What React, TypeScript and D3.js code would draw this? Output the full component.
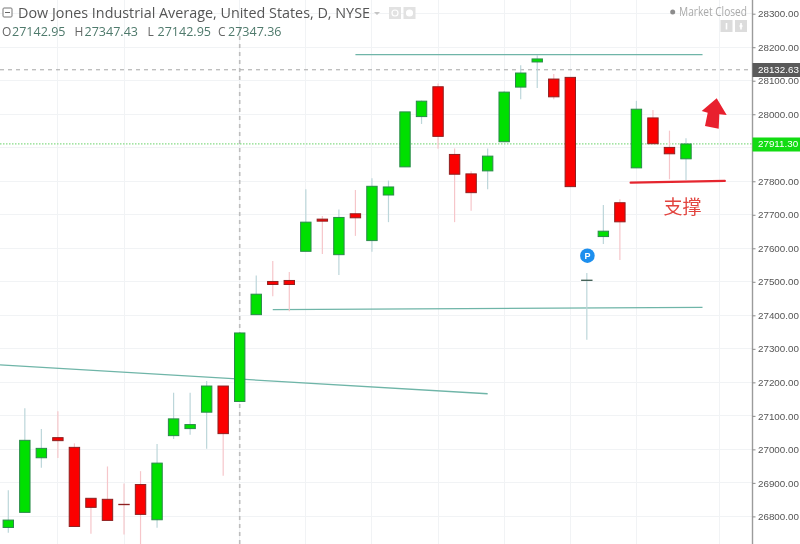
/**
 * Dow Jones daily candlestick chart, TradingView style
 */

import { useEffect, useRef } from 'react';
import * as d3 from 'd3';

const opens = [26767, 26812, 26975, 27035, 27006, 26854, 26851, 26836, 26895, 26790, 27041, 27062, 27111, 27189, 27142.95, 27402, 27501, 27504, 27591, 27687, 27581, 27703, 27623, 27759, 27843, 27993, 28082, 27880, 27822, 27831, 27918, 28081, 28156, 28105, 28110, 27505, 27635, 27736, 27840, 27989, 27901, 27867];
const highs = [26878, 27123, 27061, 27114, 27018, 26854, 26949, 26898, 26935, 27016, 27169, 27169, 27204, 27189, 27347.43, 27519, 27562, 27529, 27776, 27696, 27716, 27774, 27809, 27802, 28007, 28041, 28092, 27898, 27830, 27898, 28069, 28146, 28177, 28120, 28110, 27526, 27729, 27746, 28040, 28013, 27951, 27928];
const lows = [26751, 26812, 26945, 26974, 26770, 26748, 26788, 26746, 26710, 26766, 27031, 27044, 27002, 26921, 27142.95, 27402, 27457, 27412, 27591, 27583, 27520, 27637, 27590, 27678, 27843, 27971, 27897, 27678, 27712, 27776, 27918, 28045, 28078, 28045, 27784, 27327, 27613, 27565, 27840, 27912, 27806, 27804];
const closes = [26789, 27027, 27003, 27026, 26770, 26827, 26788, 26835, 26806, 26959, 27091, 27074, 27189, 27047, 27347.36, 27463, 27492, 27492, 27678, 27681, 27692, 27691, 27785, 27783, 28007, 28039, 27934, 27821, 27766, 27875, 28066, 28123, 28165, 28052, 27784, 27504, 27651, 27679, 28015, 27912, 27882, 27911.3];

const priceTicks = [28300, 28200, 28100, 28000, 27900, 27800, 27700, 27600, 27500, 27400, 27300, 27200, 27100, 27000, 26900, 26800];
// 27900 sits under the last-price badge, so only its grid line shows
const labelledTicks = priceTicks.filter(p => p !== 27900);
const gridBars = [3, 7, 14, 18, 22, 26, 30, 34, 38, 43];

// trend lines as [bar, price]
const resistanceLine: [number, number][] = [[21, 28178], [42, 28178]];
const channelLine: [number, number][] = [[16, 27417], [42, 27424]];
const fallingLine: [number, number][] = [[-0.5, 27252], [29, 27166]];
const supportLine: [number, number][] = [[37.65, 27796], [43.35, 27801]];

const lastPrice = 27911.3;
const prevClose = 28132.63;

const ohlcLegend = [
  { key: 'O', value: '27142.95', x: 2 },
  { key: 'H', value: '27347.43', x: 74.5 },
  { key: 'L', value: '27142.95', x: 147.5 },
  { key: 'C', value: '27347.36', x: 218 },
];

const WIDTH = 800;
const HEIGHT = 544;
const AXIS_X = 752.5;
const FONT = '"Open Sans", sans-serif';
const AXIS_FONT = '"Liberation Sans", Arial, sans-serif';

export default function App() {
  const svgRef = useRef<SVGSVGElement>(null);

  useEffect(() => {
    if (!svgRef.current) return;
    const svg = d3.select(svgRef.current);
    svg.selectAll('*').remove();

    const x = d3.scaleLinear().domain([0, 41]).range([8.3, 686]);
    const y = d3.scaleLinear().domain([26800, 28300]).range([516.4, 13.7]);
    const bars = d3.range(opens.length);
    const crisp = (v: number) => Math.round(v - 0.5) + 0.5;

    // Grid
    const grid = svg.append('g').attr('stroke', '#f1f3f5').attr('stroke-width', 1);
    grid.selectAll('line.h').data(priceTicks).enter().append('line')
      .attr('x1', 0).attr('x2', AXIS_X)
      .attr('y1', d => crisp(y(d))).attr('y2', d => crisp(y(d)));
    grid.selectAll('line.v').data(gridBars).enter().append('line')
      .attr('x1', d => crisp(x(d))).attr('x2', d => crisp(x(d)))
      .attr('y1', 0).attr('y2', HEIGHT);

    // Crosshair
    svg.append('line')
      .attr('x1', 239.7).attr('x2', 239.7).attr('y1', 28).attr('y2', HEIGHT)
      .attr('stroke', '#bdbdbd').attr('stroke-width', 1.6).attr('stroke-dasharray', '4 4');

    // Price lines
    svg.append('line')
      .attr('x1', 0).attr('x2', AXIS_X).attr('y1', y(prevClose)).attr('y2', y(prevClose))
      .attr('stroke', '#a5a5a5').attr('stroke-dasharray', '4 4');
    svg.append('line')
      .attr('x1', 0).attr('x2', AXIS_X).attr('y1', y(lastPrice)).attr('y2', y(lastPrice))
      .attr('stroke', '#86dc86').attr('stroke-width', 1.3).attr('stroke-dasharray', '1.5 1.5');

    // Trend lines
    const trend = d3.line<[number, number]>().x(d => x(d[0])).y(d => y(d[1]));
    [resistanceLine, channelLine, fallingLine].forEach(points => {
      svg.append('path')
        .attr('d', trend(points) as string)
        .attr('fill', 'none')
        .attr('stroke', '#6fb5a8')
        .attr('stroke-width', 1.3);
    });

    // Candles
    const isUp = (i: number) => closes[i] >= opens[i];
    svg.append('g').selectAll('line').data(bars).enter().append('line')
      .attr('x1', i => x(i)).attr('x2', i => x(i))
      .attr('y1', i => y(highs[i])).attr('y2', i => y(lows[i]))
      .attr('stroke', i => (isUp(i) || i === 35 ? '#bcd6da' : '#f6c6ca'))
      .attr('stroke-width', 1.2);
    svg.append('g').selectAll('rect').data(bars).enter().append('rect')
      .attr('x', i => x(i) - 5.2)
      .attr('width', 10.4)
      .attr('y', i => y(Math.max(opens[i], closes[i])))
      .attr('height', i => Math.abs(y(opens[i]) - y(closes[i])))
      .attr('fill', i => (isUp(i) ? '#00e000' : '#fb0000'))
      .attr('stroke', i => (i === 35 ? '#3f5f55' : isUp(i) ? '#2a8a4a' : '#8e2020'))
      .attr('stroke-width', 1);

    // Hand drawn support line, arrow and note
    svg.append('path')
      .attr('d', trend(supportLine) as string)
      .attr('fill', 'none')
      .attr('stroke', '#e5262f')
      .attr('stroke-width', 2.2)
      .attr('stroke-linecap', 'round');
    svg.append('path')
      .attr('d', 'M716.7 98.3 L726.7 115 L719.3 114.3 L718.7 128.7 L705 126 L707.7 112.7 L701.7 111 Z')
      .attr('fill', '#e8202e');
    svg.append('text')
      .attr('x', 663.5).attr('y', 213.5)
      .attr('fill', '#e2443f')
      .style('font-family', '"Noto Sans CJK SC", sans-serif')
      .style('font-size', '19px')
      .style('font-weight', '400')
      .text('支撑');

    // Pivot marker
    svg.append('circle')
      .attr('cx', 587.4).attr('cy', 255.7).attr('r', 7.3).attr('fill', '#1d8fee');
    svg.append('text')
      .attr('x', 587.4).attr('y', 259).attr('text-anchor', 'middle')
      .attr('fill', 'white')
      .style('font-family', AXIS_FONT).style('font-size', '9px').style('font-weight', 'bold')
      .text('P');

    // Price axis
    svg.append('rect').attr('x', AXIS_X).attr('y', 0).attr('width', WIDTH - AXIS_X).attr('height', HEIGHT).attr('fill', 'white');
    svg.append('line')
      .attr('x1', AXIS_X).attr('x2', AXIS_X).attr('y1', 0).attr('y2', HEIGHT)
      .attr('stroke', '#9b9b9b').attr('stroke-width', 1.4);
    const axis = d3.axisRight(y)
      .tickValues(labelledTicks)
      .tickSize(3)
      .tickPadding(2.5)
      .tickFormat(d => d3.format('.2f')(d as number));
    const axisG = svg.append('g').attr('transform', `translate(${AXIS_X},0)`).call(axis);
    axisG.select('.domain').remove();
    axisG.selectAll('line').attr('stroke', '#8a8a8a');
    axisG.selectAll('text')
      .attr('fill', '#555')
      .style('font-family', AXIS_FONT)
      .style('font-size', '9.8px');

    // Price badges
    const badge = (price: number, label: string, fill: string, top: number, h: number) => {
      svg.append('rect').attr('x', AXIS_X).attr('y', top).attr('width', WIDTH - AXIS_X).attr('height', h).attr('fill', fill);
      svg.append('text')
        .attr('x', 758).attr('y', y(price) + 3.5)
        .attr('fill', 'white')
        .style('font-family', AXIS_FONT).style('font-size', '9.8px')
        .text(label);
    };
    badge(prevClose, '28132.63', '#5a5a5a', 63, 14);
    badge(lastPrice, '27911.30', '#12dc12', 137.5, 14);

    // Header
    svg.append('rect').attr('x', 3).attr('y', 8).attr('width', 9).attr('height', 9)
      .attr('fill', 'white').attr('stroke', '#777').attr('rx', 1);
    svg.append('line').attr('x1', 5).attr('x2', 10).attr('y1', 12.5).attr('y2', 12.5).attr('stroke', '#666');
    svg.append('text')
      .attr('x', 18).attr('y', 18)
      .attr('fill', '#555')
      .attr('textLength', 352)
      .attr('lengthAdjust', 'spacingAndGlyphs')
      .style('font-family', FONT).style('font-size', '14px')
      .text('Dow Jones Industrial Average, United States, D, NYSE');
    svg.append('path').attr('d', 'M374 12 L380 12 L377 15 Z').attr('fill', '#c4c4c4');

    ohlcLegend.forEach(item => {
      svg.append('text')
        .attr('x', item.x).attr('y', 36)
        .attr('fill', '#666')
        .style('font-family', FONT).style('font-size', '12px')
        .text(item.key);
      svg.append('text')
        .attr('x', item.x + 10).attr('y', 36)
        .attr('fill', '#4f7a6c')
        .attr('textLength', 53.5)
        .attr('lengthAdjust', 'spacingAndGlyphs')
        .style('font-family', FONT).style('font-size', '12px')
        .text(item.value);
    });

    // Eye and settings buttons
    [389, 403.5].forEach((bx, k) => {
      svg.append('rect').attr('x', bx).attr('y', 7).attr('width', 12).attr('height', 12).attr('fill', '#e2e2e2');
      svg.append('circle').attr('cx', bx + 6).attr('cy', 13).attr('r', 3)
        .attr('fill', k === 0 ? 'none' : 'white').attr('stroke', 'white').attr('stroke-width', 1.2);
    });

    // Market status
    svg.append('circle').attr('cx', 672.7).attr('cy', 12).attr('r', 2.5).attr('fill', '#8c8c8c');
    svg.append('text')
      .attr('x', 679).attr('y', 16)
      .attr('fill', '#aaa')
      .attr('textLength', 68)
      .attr('lengthAdjust', 'spacingAndGlyphs')
      .style('font-family', FONT).style('font-size', '12px')
      .text('Market Closed');
    [720.5, 735].forEach((bx, k) => {
      svg.append('rect').attr('x', bx).attr('y', 20).attr('width', 12).attr('height', 12).attr('fill', '#dcdcdc');
      svg.append('line').attr('x1', bx + 6).attr('x2', bx + 6).attr('y1', 23).attr('y2', 29.5)
        .attr('stroke', 'white').attr('stroke-width', 1.6);
      if (k === 1) {
        svg.append('circle').attr('cx', bx + 6).attr('cy', 26).attr('r', 1.6).attr('fill', 'white');
      }
    });
  }, []);

  return (
    <div style={{ position: 'absolute', left: 0, top: 0, width: WIDTH, height: HEIGHT, overflow: 'hidden', background: 'white' }}>
      <svg ref={svgRef} width={WIDTH} height={HEIGHT} viewBox={`0 0 ${WIDTH} ${HEIGHT}`} style={{ display: 'block', filter: 'blur(0.35px)' }} />
    </div>
  );
}
